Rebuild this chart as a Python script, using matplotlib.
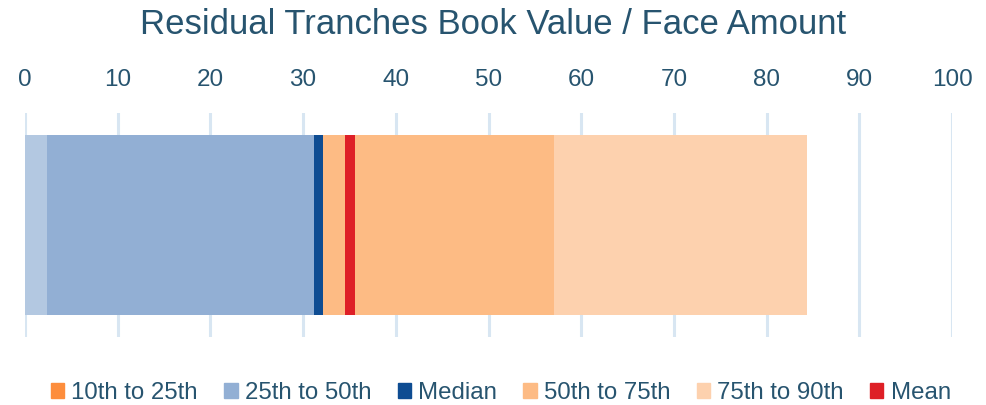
import numpy as np
import matplotlib.pyplot as plt
from matplotlib.patches import Patch

plt.rcParams['font.family'] = ['Liberation Sans', 'DejaVu Sans']

# Pieces of the single bar, left to right.
seg_widths = [2.34, 28.84, 0.97, 2.37, 1.08, 21.47, 27.29]
seg_colors = ["#B3C8E1", "#92AFD4", "#0E4C92", "#FDBB84",
              "#DE1F26", "#FDBB84", "#FDD1AE"]

# Legend entries.
legend_names = ["10th to 25th", "25th to 50th", "Median",
                "50th to 75th", "75th to 90th", "Mean"]
legend_colors = ["#FD8D3C", "#92AFD4", "#0E4C92",
                 "#FDBB84", "#FDD1AE", "#DE1F26"]

x_ticks = np.arange(0, 101, 10)
text_color = "#27546F"

fig = plt.figure(figsize=(9.86, 4.05), dpi=100)
ax = fig.add_axes([25/986, 68/405, 927/986, 224/405])

lefts = np.concatenate([[0], np.cumsum(seg_widths)[:-1]])
ax.barh([0]*len(seg_widths), seg_widths, left=lefts, height=0.8,
        color=seg_colors, zorder=2)

ax.set_xlim(0, 100)
ax.set_ylim(-0.5, 0.5)
ax.set_xticks(x_ticks)
ax.set_yticks([])
ax.xaxis.tick_top()
ax.tick_params(axis="x", length=0, pad=16, labelsize=17.5, labelcolor=text_color)
ax.grid(axis="x", color="#D8E6F2", linewidth=2.2, zorder=0)
for s in ax.spines.values():
    s.set_visible(False)

fig.text(0.5, 1 - 25/405, "Residual Tranches Book Value / Face Amount",
         ha="center", va="center", fontsize=25, color=text_color)

handles = [Patch(color=c, label=n) for n, c in zip(legend_names, legend_colors)]
fig.legend(handles=handles, loc="center", bbox_to_anchor=(0.508, 1 - 393/405),
           ncol=6, frameon=False, fontsize=17.3, labelcolor=text_color,
           handlelength=0.55, handleheight=0.55, handletextpad=0.3,
           columnspacing=1.1)

fig.savefig("out.png", dpi=100)
